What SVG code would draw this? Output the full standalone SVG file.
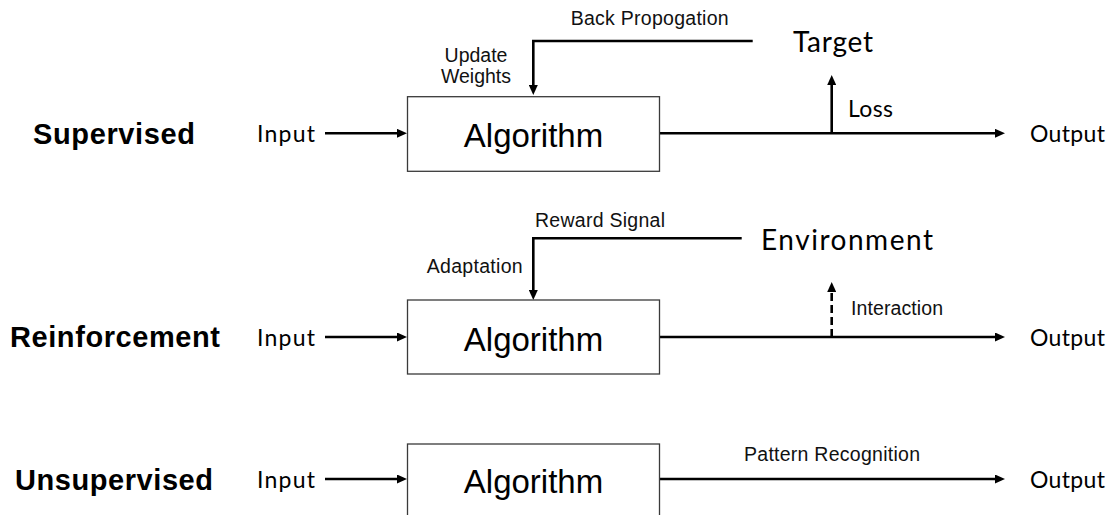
<svg xmlns="http://www.w3.org/2000/svg" width="1112" height="515" viewBox="0 0 1112 515">
<defs>
<marker id="ah" markerUnits="userSpaceOnUse" markerWidth="10" markerHeight="9" refX="2" refY="4.5" orient="auto">
<path d="M0,0 L10,4.5 L0,9 z" fill="#000"/>
</marker>
<style>
.box{fill:#fff;stroke:#3a3a3a;stroke-width:1.3}
.ln{fill:none;stroke:#000;stroke-width:2.6}
.arr{fill:none;stroke:#000;stroke-width:2.6;marker-end:url(#ah)}
.dash{stroke-dasharray:8 4}
.cat{font-family:"Liberation Sans",Arial,sans-serif;font-weight:bold;font-size:29px;fill:#000}
.alg{font-family:"Liberation Sans",Arial,sans-serif;font-size:33px;fill:#000;text-anchor:middle}
.lbl{font-family:"Liberation Sans",Arial,sans-serif;font-size:19.5px;fill:#111}
.io{font-family:Lato,"Open Sans",sans-serif;font-size:23px;fill:#000}
.big{font-family:Lato,"Open Sans",sans-serif;font-size:28px;fill:#000}
</style>
</defs>
<rect width="1112" height="515" fill="#fff"/>

<g id="connectors">
<path class="arr" d="M325,133.3 H399"/>
<path class="ln" d="M659,133.3 H832"/>
<path class="arr" d="M832,133.3 H997"/>
<path class="arr" d="M831.7,133.3 V83"/>
<path class="arr" d="M752.7,41 H533.3 V87"/>

<path class="arr" d="M325,337 H399"/>
<path class="arr" d="M659,337 H997"/>
<path class="arr dash" d="M831.7,337 V290"/>
<path class="arr" d="M741.7,238.3 H533.3 V292"/>

<path class="arr" d="M325,479 H399"/>
<path class="arr" d="M659,479 H997"/>
</g>

<g id="supervised">
<text class="cat" x="33" y="144" textLength="162">Supervised</text>
<text class="io" x="257" y="142" textLength="58">Input</text>
<g id="alg1">
<rect class="box" x="407.5" y="96.7" width="252" height="74.6"/>
<text class="alg" x="533.5" y="147">Algorithm</text>
</g>
<text class="lbl" x="570.7" y="25" textLength="158">Back Propogation</text>
<text class="lbl" x="476" y="62" text-anchor="middle">Update</text>
<text class="lbl" x="476" y="83" text-anchor="middle">Weights</text>
<text id="target" class="big" x="793" y="52" textLength="80">Target</text>
<text class="io" x="848" y="117" textLength="45">Loss</text>
<text class="io" x="1030" y="142" textLength="75">Output</text>
</g>

<g id="reinforcement">
<text class="cat" x="10" y="346.5" textLength="210">Reinforcement</text>
<text class="io" x="257" y="346" textLength="58">Input</text>
<g id="alg2">
<rect class="box" x="407.5" y="300" width="252" height="74"/>
<text class="alg" x="533.5" y="351">Algorithm</text>
</g>
<text class="lbl" x="535" y="227" textLength="130">Reward Signal</text>
<text class="lbl" x="426.7" y="273" textLength="96">Adaptation</text>
<text id="environment" class="big" x="761" y="250" textLength="172">Environment</text>
<text class="lbl" x="851" y="315" textLength="92">Interaction</text>
<text class="io" x="1030" y="346" textLength="75">Output</text>
</g>

<g id="unsupervised">
<text class="cat" x="15" y="490" textLength="198">Unsupervised</text>
<text class="io" x="257" y="488" textLength="58">Input</text>
<g id="alg3">
<rect class="box" x="407.5" y="444" width="252" height="74"/>
<text class="alg" x="533.5" y="493">Algorithm</text>
</g>
<text class="lbl" x="744" y="461" textLength="176">Pattern Recognition</text>
<text class="io" x="1030" y="488" textLength="75">Output</text>
</g>
</svg>
